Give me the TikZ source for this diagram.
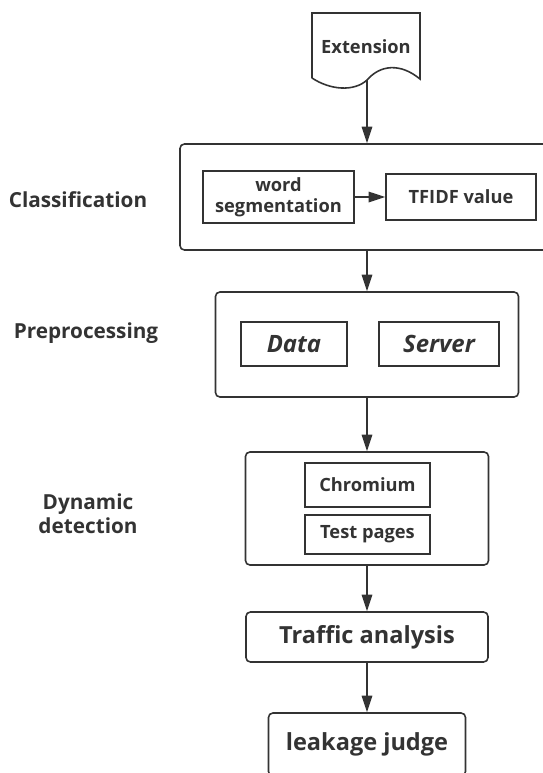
\documentclass[tikz,border=0pt]{standalone}
\usepackage{fontspec}
\setmainfont{Open Sans}
\usetikzlibrary{arrows.meta}
\definecolor{ink}{HTML}{333333}

\tikzset{
    outerbox/.style={draw=ink, line width=0.9pt, rounded corners=2.5pt, inner sep=0pt},
    innerbox/.style={draw=ink, line width=0.9pt, inner sep=0pt},
    flow/.style={draw=ink, line width=0.9pt, -{Triangle[length=9.5pt,width=6pt]}},
    steplabel/.style={text=ink, align=center, font=\bfseries\fontsize{11.8}{13.5}\selectfont},
    smalltext/.style={text=ink, align=center, font=\bfseries\fontsize{10.4}{11.8}\selectfont},
    bigtext/.style={text=ink, align=center, font=\bfseries\fontsize{13.4}{15}\selectfont}
}

\begin{document}
\begin{tikzpicture}
    \useasboundingbox (0,0) rectangle (10.86,-15.46);

%ulaz (dokument)
    \draw[ink, line width=0.9pt] (6.24,-1.56) -- (6.24,-0.26) -- (8.40,-0.26) -- (8.40,-1.58)
        .. controls (8.0,-1.25) and (7.6,-1.3) .. (7.34,-1.6)
        .. controls (7.08,-1.84) and (6.6,-1.80) .. (6.24,-1.56);
    \coordinate (extout) at (7.34,-1.6);
    \node[smalltext] (ext) at (7.32,-0.94) {Extension};

%klasifikacija
    \node[outerbox, minimum width=7.4cm, minimum height=2.12cm] (class) at (7.30,-3.94) {};
    \node[innerbox, smalltext, minimum width=3.02cm, minimum height=1.04cm] (wordseg)
        at (5.57,-3.94) {word\\segmentation};
    \node[innerbox, smalltext, minimum width=3.0cm, minimum height=0.92cm] (tfidf)
        at (9.22,-3.94) {TFIDF value};
    \draw[flow] (wordseg) -- (tfidf);

%predobrada
    \node[outerbox, minimum width=6.06cm, minimum height=2.10cm] (prep) at (7.34,-6.89) {};
    \node[innerbox, bigtext, font=\bfseries\itshape\fontsize{13.6}{15}\selectfont,
        minimum width=2.12cm, minimum height=0.88cm] (data) at (5.88,-6.88) {Data};
    \node[innerbox, bigtext, font=\bfseries\itshape\fontsize{13.6}{15}\selectfont,
        minimum width=2.40cm, minimum height=0.88cm] (server) at (8.78,-6.88) {Server};

%dinamicka detekcija
    \node[outerbox, minimum width=4.86cm, minimum height=2.26cm] (dyn) at (7.34,-10.17) {};
    \node[innerbox, smalltext, minimum width=2.5cm, minimum height=0.88cm] (chrom)
        at (7.35,-9.70) {Chromium};
    \node[innerbox, smalltext, minimum width=2.5cm, minimum height=0.78cm] (tpages)
        at (7.35,-10.69) {Test pages};

%analiza i odluka
    \node[outerbox, bigtext, minimum width=4.84cm, minimum height=1.0cm] (traffic)
        at (7.34,-12.74) {Traffic analysis};
    \node[outerbox, bigtext, minimum width=3.94cm, minimum height=1.26cm] (leak)
        at (7.34,-14.89) {leakage judge};

%oznake faza
    \node[steplabel] (classlbl) at (1.56,-4.0) {Classification};
    \node[steplabel] (preplbl) at (1.72,-6.66) {Preprocessing};
    \node[steplabel] (dynlbl) at (1.76,-10.27) {Dynamic\\detection};

%strelice
    \draw[flow] (extout) -- (class.north -| extout);
    \draw[flow] (class.south -| prep) -- (prep);
    \draw[flow] (prep) -- (dyn);
    \draw[flow] (dyn) -- (traffic);
    \draw[flow] (traffic) -- (leak);
\end{tikzpicture}
\end{document}
